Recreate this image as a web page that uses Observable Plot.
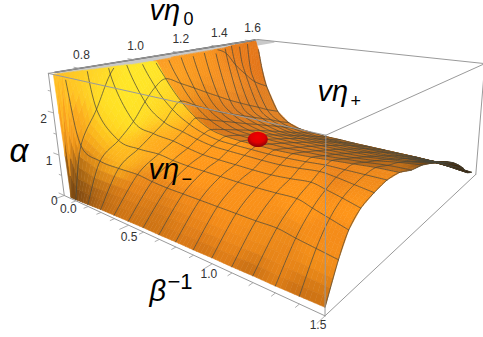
<!DOCTYPE html>
<html><head><meta charset="utf-8">
<script src="https://cdn.jsdelivr.net/npm/d3@7"></script>
<script src="https://cdn.jsdelivr.net/npm/@observablehq/plot@0.6"></script>
<style>html,body{margin:0;background:#fff}svg{display:block}</style>
</head><body><div id="chart"></div>
<script>
const betaValues=[.03,.06,.1,.2,.3,.4,.5,.6,.7,.8,.9,1,1.1,1.2,1.3,1.4,1.5];
const etaAtLowBeta=[.70,.72,.78,.84,.90,.96,1.02,1.085,1.145,1.2,1.26,1.32,1.38,1.43,1.49,1.545,1.63];
const etaAtMidBeta=[.70,.79,.87,.93,.97,1.0,1.03,1.09,1.15,1.21,1.27,1.33,1.385,1.44,1.49,1.545,1.60];
const etaAtHighBeta=[.70,.75,.79,.84,.90,.963,1.03,1.10,1.17,1.24,1.30,1.36,1.41,1.46,1.51,1.55,1.60];
const alphaRow00=[5,.03,.03,.05,.07,.08,.09,.1,.1,.11,.11,.12,.12,.13,.13,.14,.15];
const alphaRow01=[9,2.6,1.25,.95,.85,.78,.74,.72,.72,.72,.72,.72,.72,.73,.74,.76,.78];
const alphaRow02=[12,3.5,2,1.3,1.15,1.08,1.04,1.02,1.02,1.02,1.02,1.03,1.05,1.07,1.1,1.13,1.16];
const alphaRow03=[14,4.6,2.75,1.65,1.4,1.27,1.2,1.15,1.14,1.14,1.14,1.15,1.19,1.24,1.3,1.35,1.39];
const alphaRow04=[15,5.6,3.1,2.05,1.6,1.42,1.33,1.27,1.26,1.26,1.26,1.27,1.31,1.36,1.42,1.46,1.5];
const alphaRow05=[16,6.5,3.2,2.35,1.85,1.55,1.41,1.34,1.33,1.33,1.33,1.35,1.38,1.42,1.47,1.52,1.57];
const alphaRow06=[16,7,3.2,2.5,2,1.65,1.45,1.38,1.36,1.36,1.36,1.38,1.41,1.45,1.49,1.53,1.55];
const alphaRow07=[15,6.2,3.1,2.3,1.8,1.5,1.34,1.29,1.28,1.27,1.27,1.29,1.31,1.35,1.38,1.42,1.43];
const alphaRow08=[14,5.8,3.05,2.1,1.6,1.36,1.22,1.18,1.17,1.17,1.17,1.19,1.21,1.24,1.27,1.33,1.37];
const alphaRow09=[13,5.4,3.05,1.9,1.42,1.22,1.1,1.07,1.06,1.06,1.07,1.08,1.1,1.13,1.16,1.19,1.25];
const alphaRow10=[12,5,2.98,1.7,1.27,1.08,.98,.95,.95,.95,.96,.97,.99,1.01,1.03,1.06,1.12];
const alphaRow11=[11,4.6,2.92,1.5,1.12,.95,.85,.83,.83,.83,.84,.85,.87,.89,.91,.93,1];
const alphaRow12=[10,4.2,2.75,1.33,.98,.82,.73,.71,.71,.72,.73,.74,.75,.77,.78,.8,.87];
const alphaRow13=[8,3.3,2.35,1.18,.85,.7,.61,.6,.6,.61,.62,.63,.64,.65,.66,.68,.7];
const alphaRow14=[6,2.7,2,1.03,.72,.58,.5,.49,.49,.5,.5,.51,.52,.53,.53,.52,.5];
const alphaRow15=[4,2.3,1.7,.87,.57,.45,.39,.37,.37,.37,.38,.39,.39,.4,.39,.35,.29];
const alphaRow16=[2.6,2,1.45,.7,.42,.32,.28,.26,.26,.25,.25,.25,.25,.25,.24,.22,.18];
const alphaGrid=[alphaRow00,alphaRow01,alphaRow02,alphaRow03,alphaRow04,alphaRow05,alphaRow06,alphaRow07,alphaRow08,alphaRow09,alphaRow10,alphaRow11,alphaRow12,alphaRow13,alphaRow14,alphaRow15,alphaRow16];
const betaTicks=[0,.5,1,1.5], etaTicks=[.8,1,1.2,1.4,1.6], alphaTicks=[0,1,2];
const critical=[{beta:.8,eta:1.03,alpha:1.5}];

const litFront=[[62,85,255,185,35],[75,78,255,205,35],[70,120,250,160,30],[70,170,120,70,15],[80,143,245,150,25],[100,127,255,205,30],[120,117,255,225,35],[137,83,255,232,40],[93,80,255,218,40],[135,105,255,232,40],[110,100,255,228,38],[150,90,255,228,40],[153,107,255,215,35],[173,107,255,205,30],[120,153,255,185,30],[160,140,255,170,30],[193,137,255,160,25],[93,173,240,150,25],[200,160,255,150,25],[250,200,250,145,25],[300,180,255,150,25],[190,215,245,140,25],[190,233,225,125,25],[75,195,85,50,15],[90,200,170,95,20],[110,205,205,115,20],[140,215,205,115,20],[140,190,235,135,25],[170,230,205,115,20],[200,255,200,110,20],[225,245,230,130,25],[225,225,250,145,25],[250,275,195,108,20],[275,265,235,135,25],[300,295,200,110,20],[255,235,240,140,25],[320,270,245,145,25],[320,295,205,115,20],[360,200,255,150,25],[340,250,245,140,25],[375,185,255,150,25],[300,155,240,135,25],[345,170,235,130,25],[375,178,225,125,25]];
const litBack=[[165,55,250,150,35],[200,60,250,150,30],[170,75,255,170,35],[185,90,245,150,30],[240,50,235,125,25],[255,60,225,115,25],[225,80,245,145,35],[200,110,215,115,20],[180,108,255,160,30],[250,105,225,125,30],[275,115,225,130,35],[240,125,215,120,30],[300,135,205,115,30],[340,148,190,110,30],[300,150,220,125,30],[380,160,185,105,25],[405,165,200,115,25],[430,164,110,65,15],[445,165,70,42,10],[460,170,50,30,8]];

const bMax=1.5,eMin=.7,eMax=1.65,aMax=2.9;
const cornerFit=[[0,0,0,64,194],[1,0,0,323,315],[0,0,1,47,74],[1,0,1,328,135],[1,1,0,476,175],[1,1,1,483,62],[0,1,1,258,39]];
function solveCamera(){const rows=[],rhs=[];
  for(const [u,v,t,x,y] of cornerFit){rows.push([u,v,t,1,0,0,0,0,-x*u,-x*v,-x*t]);rhs.push(x);rows.push([0,0,0,0,u,v,t,1,-y*u,-y*v,-y*t]);rhs.push(y);}
  const n=11,M=d3.range(n).map(i=>[...d3.range(n).map(j=>d3.sum(rows,r=>r[i]*r[j])+(i===j?1e-6:0)),d3.sum(rows,(r,k)=>r[i]*rhs[k])]);
  for(let c=0;c<n;c++){let piv=c;for(let r=c+1;r<n;r++)if(Math.abs(M[r][c])>Math.abs(M[piv][c]))piv=r;[M[c],M[piv]]=[M[piv],M[c]];
    for(let r=0;r<n;r++)if(r!==c){const f=M[r][c]/M[c][c];for(let k=c;k<=n;k++)M[r][k]-=f*M[c][k];}}
  return M.map((r,i)=>r[n]/r[i]);}
const K=solveCamera();
function proj(beta,eta,alpha){const u=beta/bMax,v=(eta-eMin)/(eMax-eMin),t=alpha/aMax,w=K[8]*u+K[9]*v+K[10]*t+1;
  return {x:(K[0]*u+K[1]*v+K[2]*t+K[3])/w,y:(K[4]*u+K[5]*v+K[6]*t+K[7])/w,w};}
function etaAt(j,b){if(b<.4)return etaAtLowBeta[j]+(etaAtMidBeta[j]-etaAtLowBeta[j])*b/.4;
  if(b<1.2)return etaAtMidBeta[j];return etaAtMidBeta[j]+(etaAtHighBeta[j]-etaAtMidBeta[j])*(b-1.2)/.3;}

function litColor(x,y,back){const A=back?litBack:litFront;let t=0,r=0,g=0,b=0;const s=14;
  for(const a of A){const d=((x-a[0])**2+(y-a[1])**2)/(2*s*s),w=Math.exp(-d)+1e-9;t+=w;r+=w*a[2];g+=w*a[3];b+=w*a[4];}
  return `rgb(${Math.round(r/t)},${Math.round(g/t)},${Math.round(b/t)})`;}

const N=5,polys=[];
for(let j=0;j<etaAtLowBeta.length-1;j++)for(let i=0;i<betaValues.length-1;i++){
  for(let p=0;p<N;p++)for(let q=0;q<N;q++){
    const corner=(p,q)=>{const s=p/N,r=q/N,be=betaValues[i]+s*(betaValues[i+1]-betaValues[i]),et=(1-r)*etaAt(j,be)+r*etaAt(j+1,be);
      const al=(1-r)*((1-s)*alphaGrid[j][i]+s*alphaGrid[j][i+1])+r*((1-s)*alphaGrid[j+1][i]+s*alphaGrid[j+1][i+1]);return {be,et,al};};
    const cs=[corner(p,q),corner(p+1,q),corner(p+1,q+1),corner(p,q+1)];
    if(cs.every(c=>c.al>=aMax))continue;
    const pts=cs.map(c=>proj(c.be,c.et,Math.min(c.al,aMax)));
    polys.push({pts,col:litColor(d3.mean(pts,d=>d.x),d3.mean(pts,d=>d.y),j>=6),w:d3.mean(pts,d=>d.w)});
  }
}
polys.sort((a,b)=>b.w-a.w);
const quadPts=polys.flatMap((d,id)=>d.pts.map(p=>({x:p.x,y:p.y,id,col:d.col})));

// mesh lines, rounded through the table's vertices and stopped at the top of the box
const cr=(a,b,c,d,s)=>.5*(2*b+(c-a)*s+(2*a-5*b+4*c-d)*s*s+(3*b-a-3*c+d)*s*s*s);
const mesh=[];let mid=0;
function pushLine(V){let cur=null;const n=V.length;
  for(let i=0;i<n-1;i++)for(let k=0;k<=(i===n-2?12:11);k++){const s=k/12,a=V[Math.max(i-1,0)],b=V[i],c=V[i+1],d=V[Math.min(i+2,n-1)],f=m=>cr(a[m],b[m],c[m],d[m],s);
    const al=f(2);if(al>aMax){cur=null;continue;}if(!cur)cur=++mid;const p=proj(f(0),f(1),Math.max(al,0));mesh.push({x:p.x,y:p.y,id:cur});}}
alphaGrid.forEach((row,j)=>{if(j)pushLine(betaValues.map((be,i)=>[be,etaAt(j,be),Math.min(row[i],4.5)]));});
betaValues.forEach((be,i)=>{if(i>1)pushLine(alphaGrid.map((row,j)=>[be,etaAt(j,be),Math.min(row[i],4.5)]));});

const edge=(a,b,id)=>[{...proj(...a),id},{...proj(...b),id}];
const boxFront=[
 ...edge([0,eMin,0],[bMax,eMin,0],1),...edge([0,eMin,0],[0,eMin,aMax],2),...edge([0,eMin,aMax],[bMax,eMin,aMax],3),
 ...edge([bMax,eMin,0],[bMax,eMin,aMax],4),...edge([bMax,eMin,0],[bMax,eMax,0],5),...edge([bMax,eMax,0],[bMax,eMax,aMax],6),
 ...edge([bMax,eMin,aMax],[bMax,eMax,aMax],7),...edge([0,eMax,aMax],[bMax,eMax,aMax],8),...edge([0,eMin,aMax],[0,eMax,aMax],9)];
const strip=[[.0,.72],[.0,1.63],[.16,1.63],[.16,.72]].map(([b,e])=>({...proj(b,e,aMax)}));
const rimEdge=[.72,1.63].map(e=>proj(0,e,aMax));

const tickLinks=[];
d3.range(0,1.5001,.1).forEach(b=>{const major=Math.abs(b*2-Math.round(b*2))<1e-6,p=proj(b,eMin,0),q=proj(b,eMin-(major?.03:.015),0);tickLinks.push({x1:p.x,y1:p.y,x2:q.x,y2:q.y});});
d3.range(.8,1.6001,.1).forEach(e=>{const major=Math.abs(e*5-Math.round(e*5))<1e-6,p=proj(0,e,aMax),q=proj(major?-.05:-.025,e,aMax);tickLinks.push({x1:p.x,y1:p.y,x2:q.x,y2:q.y});});
d3.range(0,2.51,.5).forEach(a=>{const major=a%1===0,p=proj(0,eMin,a),q=proj(major?-.05:-.025,eMin,a);tickLinks.push({x1:p.x,y1:p.y,x2:q.x,y2:q.y});});

const fmt=d3.format(".1f");
const labelFont={fontFamily:"'Liberation Sans',Arial,sans-serif",fill:"#333",fontSize:12};
const titleFont={fontFamily:"'Liberation Sans',Arial,sans-serif",fontStyle:"italic",fill:"#000",fontSize:29,textAnchor:"start"};
const subFont={fontFamily:"'Liberation Sans',Arial,sans-serif",fill:"#000",fontSize:18,textAnchor:"start"};
const titles=[{s:"vη",x:149,y:10},{s:"vη",x:317,y:91},{s:"vη",x:148,y:169},{s:"β",x:149,y:291}];
const alphaTitle=[{s:"α",x:9,y:151}];
const subs=[{s:"0",x:183,y:19},{s:"+",x:350,y:101},{s:"−",x:181,y:179}];
const exponent=[{s:"−1",x:167,y:281}];

const defs=()=>{const s=d3.create("svg:defs");const g=s.append("radialGradient").attr("id","ball").attr("cx","50%").attr("cy","35%").attr("r","65%");
 g.append("stop").attr("offset","0%").attr("stop-color","#f00000");g.append("stop").attr("offset","55%").attr("stop-color","#e00000");g.append("stop").attr("offset","100%").attr("stop-color","#8a0008");
 return s.node();};
const ballSymbol={draw(ctx,size){const r=Math.sqrt(size/Math.PI);for(let k=0;k<=40;k++){const a=k/40*2*Math.PI,x=r*Math.cos(a),y=.76*r*Math.sin(a);k?ctx.lineTo(x,y):ctx.moveTo(x,y);}ctx.closePath();}};

const chart=Plot.plot({width:483,height:337,margin:0,style:{background:"#fff"},
 x:{domain:[0,483],range:[0,483],axis:null},y:{domain:[0,337],range:[0,337],axis:null},
 marks:[defs,
  Plot.line(strip,{x:"x",y:"y",fill:"#c9c9c9",stroke:"#c9c9c9",curve:"linear-closed"}),
  Plot.line(quadPts,{x:"x",y:"y",z:"id",fill:"col",stroke:"col",strokeWidth:.6,curve:"linear-closed"}),
  Plot.line(rimEdge,{x:"x",y:"y",stroke:"#555",strokeWidth:1.4}),
  Plot.line(mesh,{x:"x",y:"y",z:"id",stroke:"#45453a",strokeOpacity:.85,strokeWidth:.85}),
  Plot.line(boxFront,{x:"x",y:"y",z:"id",stroke:"#9a9a9a",strokeWidth:1}),
  Plot.link(tickLinks,{x1:"x1",y1:"y1",x2:"x2",y2:"y2",stroke:"#9a9a9a",strokeWidth:.8}),
  Plot.dot(critical,{x:d=>proj(d.beta,d.eta,d.alpha).x,y:d=>proj(d.beta,d.eta,d.alpha).y,r:10,symbol:ballSymbol,fill:"url(#ball)",stroke:"none"}),
  Plot.text(betaTicks,{x:d=>proj(d,eMin,0).x+4-11*d/1.5,y:d=>proj(d,eMin,0).y+14-5*d/1.5,text:d=>fmt(d),...labelFont}),
  Plot.text(etaTicks,{x:d=>proj(0,d,aMax).x,y:d=>proj(0,d,aMax).y,text:d=>fmt(d),dx:2,dy:-13,...labelFont}),
  Plot.text(alphaTicks,{x:d=>proj(0,eMin,d).x,y:d=>proj(0,eMin,d).y,text:d=>String(d),dx:-10,dy:6,...labelFont}),
  Plot.text(titles,{x:"x",y:"y",text:"s",...titleFont}),
  Plot.text(alphaTitle,{x:"x",y:"y",text:"s",...titleFont,fontSize:33}),
  Plot.text(subs,{x:"x",y:"y",text:"s",...subFont}),
  Plot.text(exponent,{x:"x",y:"y",text:"s",...subFont,fontSize:22})
 ]});
document.getElementById("chart").append(chart);
</script></body></html>
